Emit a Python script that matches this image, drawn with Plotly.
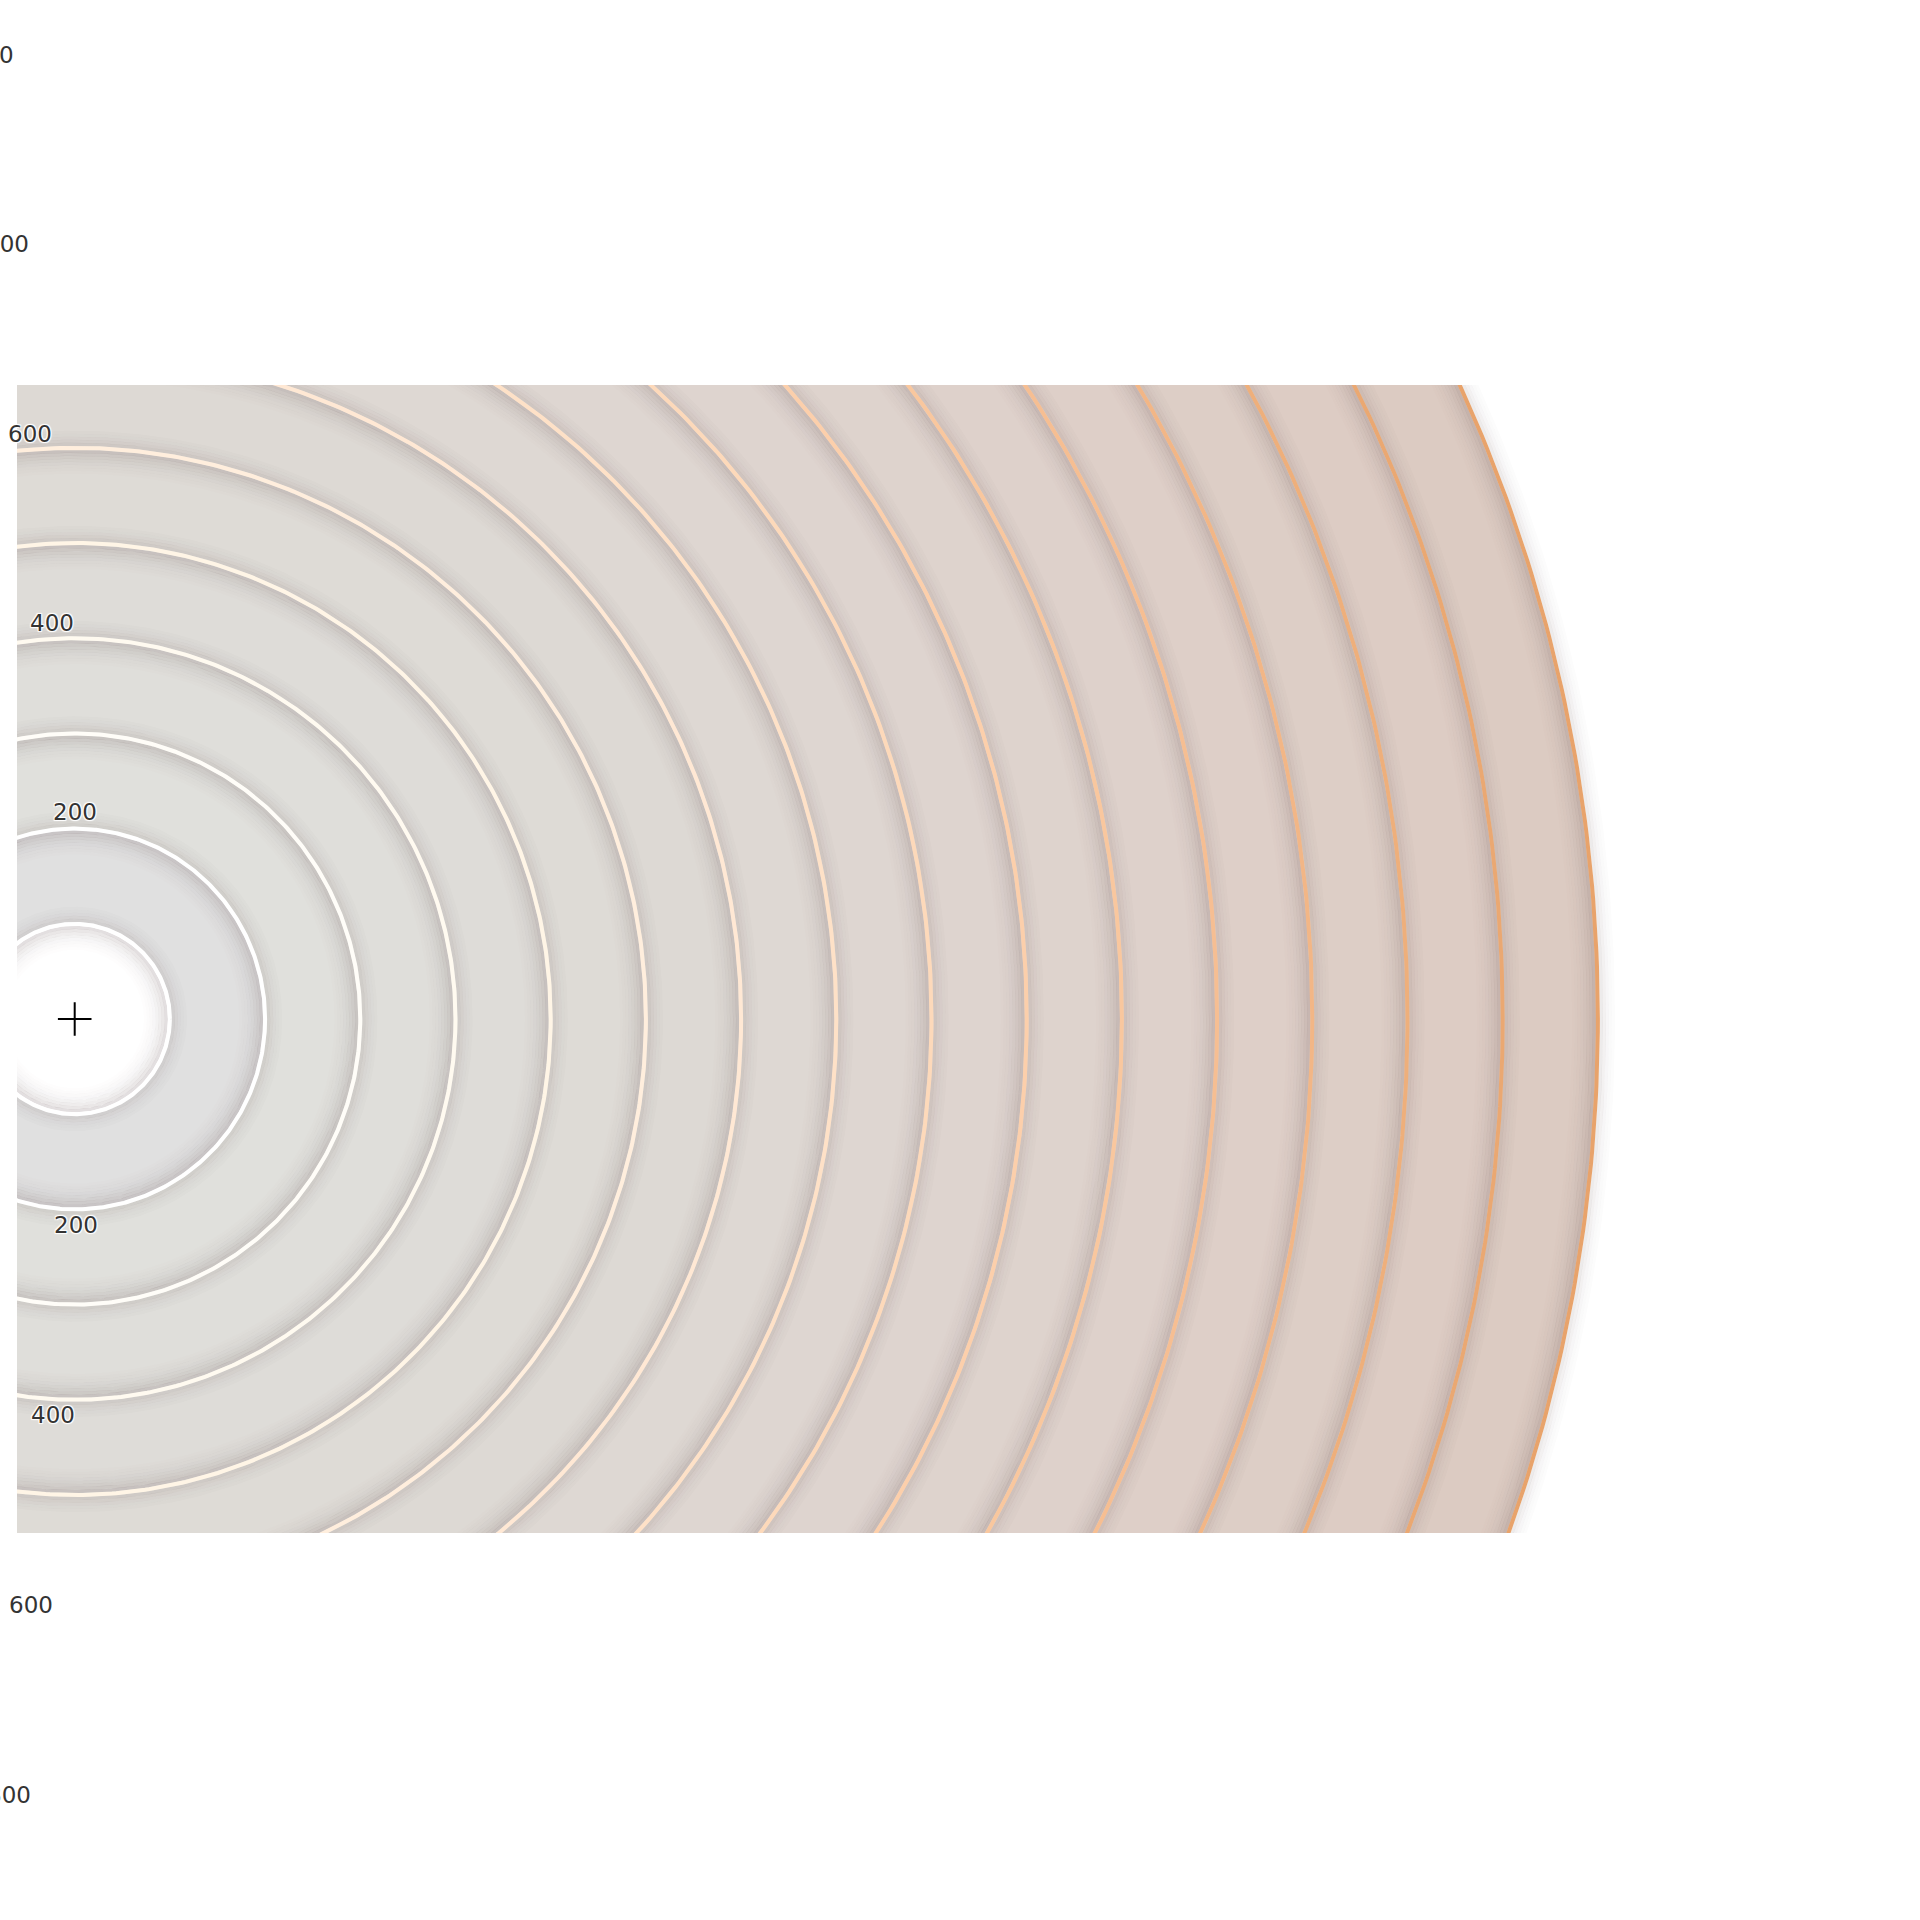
import numpy as np
import plotly.graph_objects as go

# ---- data ----
thresholds = [100, 200, 300, 400, 500, 600, 700, 800, 900, 1000, 1100, 1200, 1300, 1400, 1500, 1600]
stroke_colors = ["#ffffff", "#ffffff", "#fffdf8", "#fffaf0", "#fff5e6", "#ffeedd", "#ffe8d4",
                 "#fee1c7", "#fdd9ba", "#fccfab", "#f9c79e", "#f6be92", "#f2b686", "#eeaf7b",
                 "#eaa872", "#e8a36b"]
fill_colors = ["#ffffff", "#e0e0e0", "#e0e0dc", "#dfdeda", "#dedcd8", "#dedbd6", "#ddd9d4",
               "#ded8d3", "#ded6d1", "#ded4cf", "#ded3cd", "#ded1cb", "#decfc8", "#ddcec6",
               "#ddccc4", "#dccbc2"]
labels_top = [200, 400, 600, 800, 1000]
labels_bottom = [200, 400, 600, 800]

# ---- geometry / style ----
PX = 0.952  # pixels per data unit
STROKE = 4
theta = np.linspace(0, 2 * np.pi, 721)
cos_t, sin_t = np.cos(theta), np.sin(theta)


def circle(r):
    return (r * cos_t).tolist(), (r * sin_t).tolist()


def multi_circle(radii):
    xs, ys = [], []
    for r in radii:
        x, y = circle(r)
        xs += x + [None]
        ys += y + [None]
    return xs, ys


fig = go.Figure()

# filled discs, outer to inner
for r, c in sorted(zip(thresholds, fill_colors), reverse=True):
    x, y = circle(r)
    fig.add_trace(go.Scatter(x=x, y=y, mode="lines", fill="toself", fillcolor=c,
                             line=dict(width=0, color=c), hoverinfo="skip"))

# soft shadows (inward stronger, outward lighter)
inward = [(3.5, 0.16), (6.5, 0.12), (9.5, 0.09), (12.5, 0.065), (15.5, 0.045),
          (18.5, 0.03), (21.5, 0.018), (24.5, 0.008)]
outward = [(3.5, 0.10), (6.5, 0.07), (9.5, 0.045), (12.5, 0.028), (15.5, 0.014)]
for d, a in inward:
    xs, ys = multi_circle([r - d / PX for r in thresholds])
    fig.add_trace(go.Scatter(x=xs, y=ys, mode="lines", hoverinfo="skip",
                             line=dict(width=3.2, color=f"rgba(80,55,60,{a})")))
for d, a in outward:
    xs, ys = multi_circle([r + d / PX for r in thresholds])
    fig.add_trace(go.Scatter(x=xs, y=ys, mode="lines", hoverinfo="skip",
                             line=dict(width=3.2, color=f"rgba(80,55,60,{a})")))

# contour strokes
for r, c in zip(thresholds, stroke_colors):
    x, y = circle(r)
    fig.add_trace(go.Scatter(x=x, y=y, mode="lines", hoverinfo="skip",
                             line=dict(width=STROKE, color=c)))

# center cross
fig.add_trace(go.Scatter(x=[0], y=[0], mode="markers", hoverinfo="skip",
                         marker=dict(symbol="cross-thin", size=24,
                                     line=dict(width=2, color="#000000"))))

# ---- layout ----
left_px, right_px, top_px, bottom_px = 17, 1900, 385, 1533
cx_px, cy_px = 74.7, 1019
xmin, xmax = (left_px - cx_px) / PX, (right_px - cx_px) / PX
ymin, ymax = -(bottom_px - cy_px) / PX, (cy_px - top_px) / PX

# labels (placed in paper space so they may sit outside the clipped plot area)
label_font = dict(family="DejaVu Sans, Lato, sans-serif", size=23, color="#333333",
                  shadow="1px 1px 1px #fff, -1px -1px 1px #fff, 1px -1px 1px #fff, -1px 1px 1px #fff")
annotations = []
for v in labels_top:
    x = -0.118 * (v - 200)
    y = 217.4 + 0.994 * (v - 200)
    annotations.append(dict(x=(x - xmin) / (xmax - xmin), y=(y - ymin) / (ymax - ymin),
                            xref="paper", yref="paper", text=str(v), showarrow=False,
                            xanchor="center", yanchor="middle", font=label_font))
for v in labels_bottom:
    x = -0.118 * (v - 200) + 1.3
    y = -(215.9 + 0.998 * (v - 200))
    annotations.append(dict(x=(x - xmin) / (xmax - xmin), y=(y - ymin) / (ymax - ymin),
                            xref="paper", yref="paper", text=str(v), showarrow=False,
                            xanchor="center", yanchor="middle", font=label_font))

fig.update_layout(
    width=1920, height=1920, autosize=False,
    margin=dict(l=left_px, r=1920 - right_px, t=top_px, b=1920 - bottom_px, pad=0),
    paper_bgcolor="white", plot_bgcolor="white", showlegend=False,
    xaxis=dict(visible=False, range=[xmin, xmax]),
    yaxis=dict(visible=False, range=[ymin, ymax]),
    annotations=annotations,
)

fig.write_html("out.html")
